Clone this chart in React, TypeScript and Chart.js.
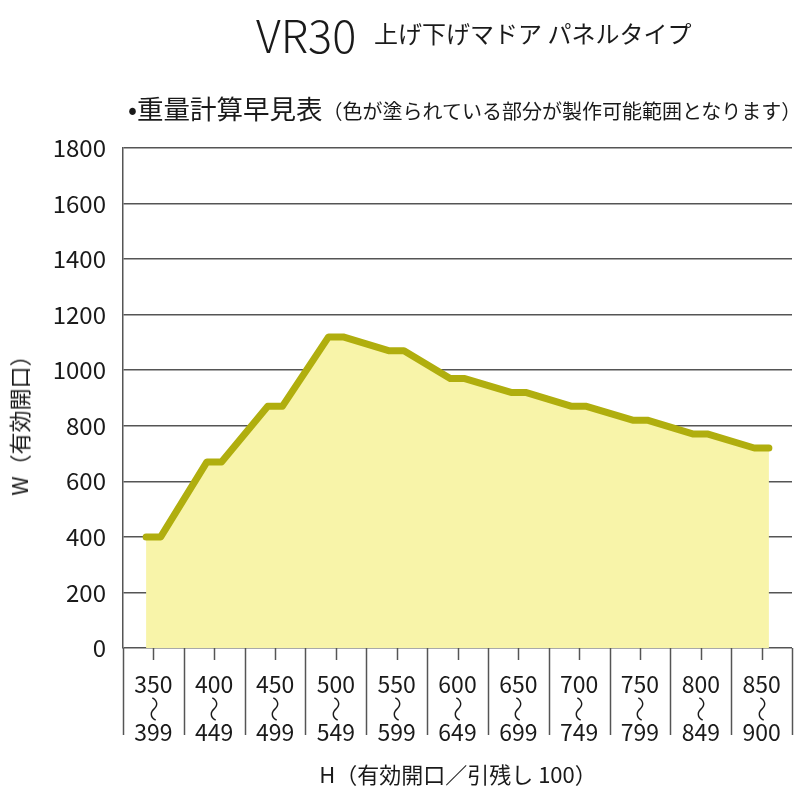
import React, { useEffect, useRef } from "react";
import { Chart, registerables } from "chart.js";

Chart.register(...registerables);

const rangeStart = ["350", "400", "450", "500", "550", "600", "650", "700", "750", "800", "850"];
const rangeEnd = ["399", "449", "499", "549", "599", "649", "699", "749", "799", "849", "900"];
const weights = [400, 670, 870, 1120, 1070, 970, 920, 870, 820, 770, 720];
const yTicks = [0, 200, 400, 600, 800, 1000, 1200, 1400, 1600, 1800];

const FONT = '"Noto Sans CJK JP", "Noto Sans", sans-serif';
const FLAT = 0.12;

export default function App() {
  const ref = useRef<HTMLCanvasElement | null>(null);

  useEffect(() => {
    if (!ref.current) return;
    const pts: { x: number; y: number }[] = [];
    weights.forEach((w, i) => {
      pts.push({ x: i + 0.5 - FLAT, y: w });
      pts.push({ x: i + 0.5 + FLAT, y: w });
    });

    const xDecor = {
      id: "xDecor",
      afterDraw(chart: any) {
        const ctx = chart.ctx;
        const xs = chart.scales.x;
        const bottom = chart.chartArea.bottom;
        ctx.save();
        ctx.strokeStyle = "#555";
        ctx.lineWidth = 1.5;
        for (let i = 0; i <= rangeStart.length; i++) {
          const x = Math.round(xs.getPixelForValue(i)) + 0.5;
          ctx.beginPath();
          ctx.moveTo(x, bottom);
          ctx.lineTo(x, bottom + 87);
          ctx.stroke();
        }
        for (let i = 0; i < rangeStart.length; i++) {
          const x = Math.round(xs.getPixelForValue(i + 0.5)) + 0.5;
          ctx.beginPath();
          ctx.moveTo(x, bottom);
          ctx.lineTo(x, bottom + 12);
          ctx.stroke();
        }
        ctx.fillStyle = "#1a1a1a";
        ctx.textAlign = "center";
        ctx.textBaseline = "middle";
        for (let i = 0; i < rangeStart.length; i++) {
          const x = xs.getPixelForValue(i + 0.5);
          ctx.font = `23px ${FONT}`;
          ctx.fillText(rangeStart[i], x, bottom + 36);
          ctx.fillText(rangeEnd[i], x, bottom + 84);
          ctx.save();
          ctx.translate(x, bottom + 61);
          ctx.rotate(Math.PI / 2);
          ctx.font = `300 26px ${FONT}`;
          ctx.fillText("〜", 0, 0);
          ctx.restore();
        }
        ctx.restore();
      },
    };

    const chart = new Chart(ref.current, {
      type: "line",
      data: {
        datasets: [
          {
            data: pts,
            borderColor: "#b0ae0e",
            backgroundColor: "#f8f4a9",
            borderWidth: 7,
            fill: "origin",
            pointRadius: 0,
            tension: 0,
            borderCapStyle: "round",
            borderJoinStyle: "round",
          },
        ],
      },
      options: {
        animation: false,
        responsive: false,
        maintainAspectRatio: false,
        layout: { padding: { left: 0, right: 8, top: 148, bottom: 152 } },
        plugins: { legend: { display: false }, tooltip: { enabled: false } },
        scales: {
          x: { type: "linear", min: 0, max: rangeStart.length, display: false },
          y: {
            min: 0,
            max: 1800,
            afterBuildTicks: (s: any) => {
              s.ticks = yTicks.map((v) => ({ value: v }));
            },
            afterFit: (s: any) => {
              s.width = 123;
            },
            border: { display: true, color: "#555", width: 1.5 },
            grid: { color: "#555", lineWidth: 1.5, drawTicks: false },
            ticks: {
              padding: 17,
              color: "#1a1a1a",
              font: { family: FONT, size: 24 },
              callback: (v: any) => String(v),
            },
          },
        },
      },
      plugins: [xDecor],
    } as any);
    return () => chart.destroy();
  }, []);

  const txt: React.CSSProperties = {
    position: "absolute",
    fontFamily: FONT,
    color: "#1a1a1a",
    whiteSpace: "nowrap",
    lineHeight: 1,
  };

  return (
    <div style={{ position: "absolute", left: 0, top: 0, width: 800, height: 800, background: "#fff" }}>
      <canvas ref={ref} width={800} height={800} style={{ position: "absolute", left: 0, top: 0 }} />
      <div style={{ ...txt, left: 256, top: 11, fontSize: 45, fontWeight: 300 }}>VR30</div>
      <div style={{ ...txt, left: 374, top: 21, fontSize: 24 }}>上げ下げマドア パネルタイプ</div>
      <div style={{ ...txt, left: 128, top: 95, fontSize: 26.5 }}>
        •重量計算早見表
        <span style={{ fontSize: 20 }}>（色が塗られている部分が製作可能範囲となります）</span>
      </div>
      <div
        style={{
          ...txt,
          left: 18,
          top: 420,
          fontSize: 22,
          transform: "translate(-50%, -50%) rotate(-90deg)",
        }}
      >
        W（有効開口）
      </div>
      <div style={{ ...txt, left: 458, top: 773, fontSize: 22, transform: "translate(-50%, -50%)" }}>
        H（有効開口／引残し 100）
      </div>
    </div>
  );
}
